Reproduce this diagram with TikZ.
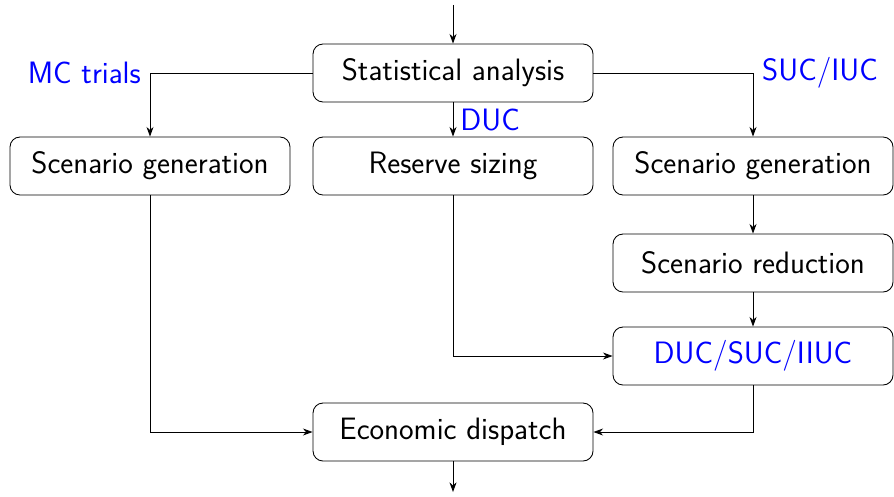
\documentclass[tikz,border=0pt]{standalone}
\usepackage{xcolor}
\usepackage{tikz}
\usetikzlibrary{arrows}
\usetikzlibrary{arrows.meta}
\usetikzlibrary{positioning}
\tikzset{>={Stealth[length=5.5pt, width=4pt, inset=1.8pt]}}
\tikzstyle{box} = [rectangle, draw=black, line width=0.5pt, rounded corners=0.2cm, minimum width=5.6cm, minimum height=1.16cm, font=\sffamily\fontsize{17.6}{21}\selectfont]
\tikzstyle{lbl} = [font=\sffamily\fontsize{17.6}{21}\selectfont, text=blue, inner sep=5pt]
\tikzstyle{link} = [->, line width=0.5pt]

\begin{document}
\begin{tikzpicture}
\useasboundingbox (0, 0) rectangle (17.88, 9.92);
\coordinate (in) at (9.06, 9.82);
\node [box] (stat) at (9.06, 8.46) {Statistical analysis};
\node [box] (genL) at (3.00, 6.60) {Scenario generation};
\node [box] (res) at (9.06, 6.60) {Reserve sizing};
\node [box] (genR) at (15.06, 6.60) {Scenario generation};
\node [box] (red) at (15.06, 4.66) {Scenario reduction};
\node [box] (uc) at (15.06, 2.80) {\textcolor{blue}{DUC/SUC/IIUC}};
\node [box] (ed) at (9.06, 1.28) {Economic dispatch};
\coordinate (out) at (9.06, 0.08);
\draw [link] (in) to (stat);
\draw [link] (stat.west) -| node [lbl, pos=0.5, left] {MC trials} (genL.north);
\draw [link] (stat.east) -| node [lbl, pos=0.5, right] {SUC/IUC} (genR.north);
\draw [link] (stat) to node [lbl, right, inner sep=4pt] {DUC} (res);
\draw [link] (genR) to (red);
\draw [link] (red) to (uc);
\draw [link] (res.south) |- (uc.west);
\draw [link] (genL.south) |- (ed.west);
\draw [link] (uc.south) |- (ed.east);
\draw [link] (ed) to (out);
\end{tikzpicture}
\end{document}
